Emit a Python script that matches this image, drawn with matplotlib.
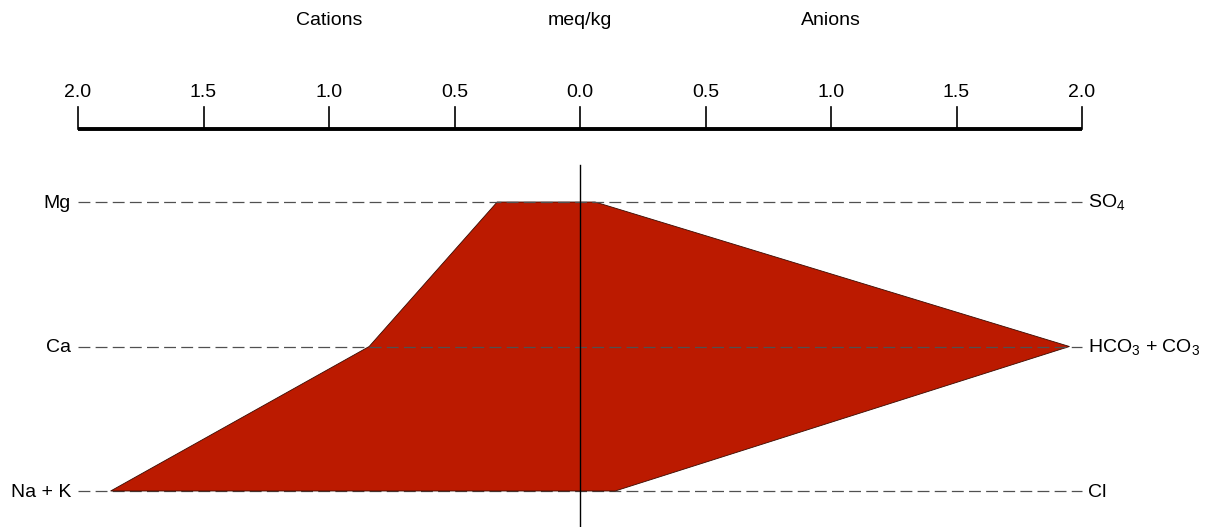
import matplotlib.pyplot as plt

cations = ["Mg", "Ca", "Na + K"]
anions = ["SO$_4$", "HCO$_3$ + CO$_3$", "Cl"]
cation_meq = [0.33, 0.84, 1.87]
anion_meq = [0.06, 1.95, 0.14]
tick_values = [-2.0, -1.5, -1.0, -0.5, 0.0, 0.5, 1.0, 1.5, 2.0]
tick_labels = ["2.0", "1.5", "1.0", "0.5", "0.0", "0.5", "1.0", "1.5", "2.0"]

plt.rcParams['font.family'] = ['Liberation Sans', 'DejaVu Sans']
plt.rcParams['mathtext.fontset'] = 'custom'
plt.rcParams['mathtext.rm'] = 'Liberation Sans'

fig = plt.figure(figsize=(12.18, 5.27), dpi=100)
ax = fig.add_axes([0, 0, 1, 1])
ax.set_axis_off()

# pixel layout: 0 meq at x=580, 251 px per unit; rows 144.5 px apart starting at y=202
px_unit, x0 = 251.0, 580.0
row_px, y0 = 144.5, 202.0
ax.set_xlim(-x0 / px_unit, (1218 - x0) / px_unit)
ax.set_ylim((527 - y0) / row_px, -y0 / row_px)

def ypix(p):
    return (p - y0) / row_px

rows = list(range(len(cations)))
fs = 14

# polygon
xs = [-v for v in cation_meq] + anion_meq[::-1]
ys = rows + rows[::-1]
ax.fill(xs, ys, facecolor="#BB1A00", edgecolor="#3a0a00", linewidth=0.6, zorder=3)

# dashed row lines (the bottom one sits under the polygon edge)
for r, c, a in zip(rows, cations, anions):
    z = 2 if r == rows[-1] else 3.5
    ax.plot([-2, 2], [r, r], color="#505050", linestyle=(0, (9.5, 4.2)), linewidth=0.9, zorder=z)
    ax.text(-2 - 7 / px_unit, r + 1 / row_px, c, ha="right", va="center", fontsize=fs)
    ax.text(2 + 6 / px_unit, r + 1 / row_px, a, ha="left", va="center", fontsize=fs)

# center line
ax.plot([0, 0], [ypix(165), ypix(527)], color="black", linewidth=1.0, zorder=4)

# top scale
ax.plot([-2, 2], [ypix(129), ypix(129)], color="black", linewidth=2.8,
        solid_capstyle="butt", zorder=3)
for t, lab in zip(tick_values, tick_labels):
    ax.plot([t, t], [ypix(107), ypix(129)], color="black", linewidth=1.2, zorder=3)
    ax.text(t, ypix(92), lab, ha="center", va="center", fontsize=fs)

ax.text(-1.0, ypix(20), "Cations", ha="center", va="center", fontsize=fs)
ax.text(0.0, ypix(20), "meq/kg", ha="center", va="center", fontsize=fs)
ax.text(1.0, ypix(20), "Anions", ha="center", va="center", fontsize=fs)

fig.savefig("out.png", dpi=100)
